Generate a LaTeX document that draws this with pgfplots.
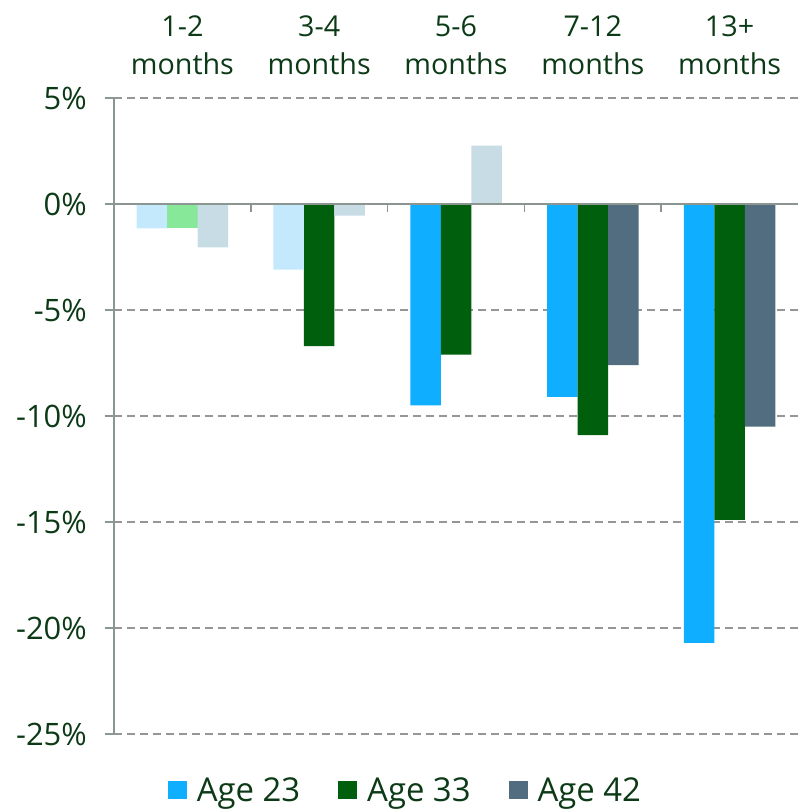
\documentclass[border=0pt]{standalone}
\usepackage{fontspec}
\setmainfont{Open Sans}
\usepackage{pgfplots}
\pgfplotsset{compat=1.18}
\definecolor{txt}{RGB}{12,58,22}
\definecolor{cA}{RGB}{15,174,255}
\definecolor{cB}{RGB}{0,95,12}
\definecolor{cC}{RGB}{82,108,128}
\definecolor{fA}{RGB}{197,233,252}
\definecolor{fB}{RGB}{136,232,154}
\definecolor{fC}{RGB}{200,220,230}
\definecolor{ax}{RGB}{140,150,144}
\definecolor{grd}{RGB}{150,150,150}
\begin{document}
\begin{tikzpicture}
\begin{axis}[
  name=ax,
  scale only axis,
  width=684bp, height=636bp,
  xmin=-0.5, xmax=4.5,
  ymin=-25, ymax=5,
  axis y line*=left,
  axis x line=none,
  y axis line style={ax, line width=1.5bp, -},
  ytick={-25,-20,-15,-10,-5,0,5},
  yticklabels={-25\%,-20\%,-15\%,-10\%,-5\%,0\%,5\%},
  yticklabel style={font=\fontsize{31}{34}\selectfont, text=txt, anchor=east, inner sep=0pt, xshift=-18bp},
  ytick style={ax, line width=1.5bp},
  tick align=outside,
  major tick length=9bp,
  ymajorgrids,
  grid style={grd, line width=1.5bp, dash pattern=on 8bp off 5bp},
  clip=false,
  legend style={at={(0.074,-0.089)}, anchor=west, draw=none, fill=none,
    legend columns=3, font=\fontsize{33}{36}\selectfont, text=txt,
    nodes={inner sep=0pt},
    /tikz/every odd column/.append style={column sep=10bp},
    /tikz/every even column/.append style={column sep=38bp}},
  legend image code/.code={\fill[#1] (0bp,-8bp) rectangle (19bp,10bp);},
]
% main (significant) bars
\addplot[ybar, bar width=30.5bp, bar shift=-30.5bp, fill=cA, draw=none]
  coordinates {(2,-9.5) (3,-9.1) (4,-20.7)};
\addlegendentry{Age 23}
\addplot[ybar, bar width=30.5bp, bar shift=0bp, fill=cB, draw=none]
  coordinates {(1,-6.7) (2,-7.1) (3,-10.9) (4,-14.9)};
\addlegendentry{Age 33}
\addplot[ybar, bar width=30.5bp, bar shift=30.5bp, fill=cC, draw=none]
  coordinates {(3,-7.6) (4,-10.5)};
\addlegendentry{Age 42}
% faded (non-significant) bars
\addplot[ybar, forget plot, bar width=30.5bp, bar shift=-30.5bp, fill=fA, draw=none]
  coordinates {(0,-1.15) (1,-3.1)};
\addplot[ybar, forget plot, bar width=30.5bp, bar shift=0bp, fill=fB, draw=none]
  coordinates {(0,-1.15)};
\addplot[ybar, forget plot, bar width=30.5bp, bar shift=30.5bp, fill=fC, draw=none]
  coordinates {(0,-2.05) (1,-0.55) (2,2.75)};
% zero line
\addplot[forget plot, ax, line width=2bp] coordinates {(-0.5,0) (4.5,0)};
\draw[ax, line width=1.5bp] (axis cs:0.5,0) -- ([yshift=-8bp]axis cs:0.5,0);
\draw[ax, line width=1.5bp] (axis cs:1.5,0) -- ([yshift=-8bp]axis cs:1.5,0);
\draw[ax, line width=1.5bp] (axis cs:2.5,0) -- ([yshift=-8bp]axis cs:2.5,0);
\draw[ax, line width=1.5bp] (axis cs:3.5,0) -- ([yshift=-8bp]axis cs:3.5,0);
% category labels on top
\tikzset{catlab/.style={anchor=base, text=txt, font=\fontsize{28.8}{30}\selectfont, inner sep=0pt}}
\node[catlab] at ([yshift=61bp]axis cs:0,5) {1-2};
\node[catlab] at ([yshift=23bp]axis cs:0,5) {months};
\node[catlab] at ([yshift=61bp]axis cs:1,5) {3-4};
\node[catlab] at ([yshift=23bp]axis cs:1,5) {months};
\node[catlab] at ([yshift=61bp]axis cs:2,5) {5-6};
\node[catlab] at ([yshift=23bp]axis cs:2,5) {months};
\node[catlab] at ([yshift=61bp]axis cs:3,5) {7-12};
\node[catlab] at ([yshift=23bp]axis cs:3,5) {months};
\node[catlab] at ([yshift=61bp]axis cs:4,5) {13+};
\node[catlab] at ([yshift=23bp]axis cs:4,5) {months};
\end{axis}
\pgfresetboundingbox
\path[use as bounding box] ([shift={(-114bp,-78bp)}]ax.south west) rectangle ([shift={(0bp,98bp)}]ax.north east);
\end{tikzpicture}
\end{document}
